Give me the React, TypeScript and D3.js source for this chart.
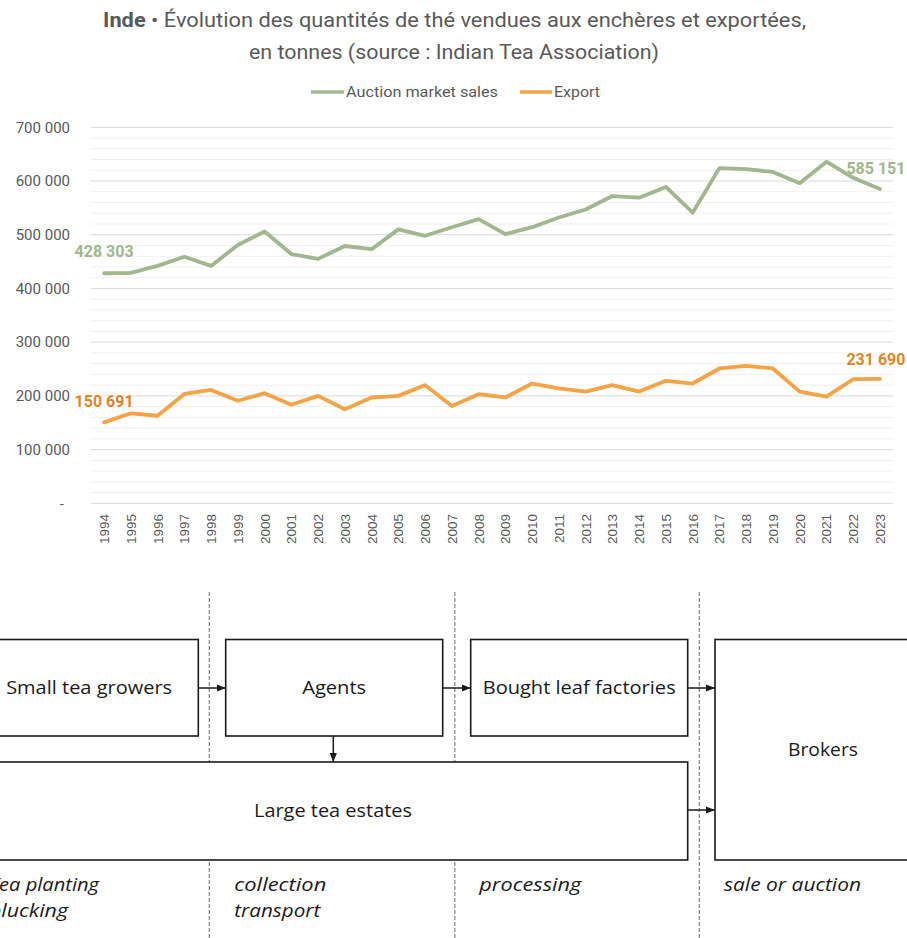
import React from "react";
import * as d3 from "d3";

const years = d3.range(1994, 2024).map(String);
const auctionSales = [428303, 429000, 442000, 459000, 442000, 481000, 506000, 464000, 455000, 479000, 473000, 510000, 498000, 514000, 529000, 501000, 514000, 532000, 547000, 572000, 569000, 589000, 541000, 624000, 622000, 617000, 596000, 636000, 606000, 585151];
const exportVals = [150691, 167600, 163000, 203500, 211000, 191000, 205000, 183600, 200000, 175000, 197000, 200000, 220000, 181000, 203000, 197000, 223000, 214000, 208000, 220000, 208000, 228000, 223000, 251000, 256000, 251000, 208000, 198500, 231000, 231690];
const seriesNames = ["Auction market sales", "Export"];
const yTicks = [0, 100000, 200000, 300000, 400000, 500000, 600000, 700000];

const GREEN = "#A2B78D";
const ORANGE = "#F4A447";
const GREEN_LABEL = "#A2B78D";
const ORANGE_LABEL = "#E5841F";
const TXT = "#595959";

const loc = d3.formatLocale({ thousands: " ", grouping: [3], decimal: ",", currency: ["", ""] });
const fmt = loc.format(",d");

export default function App() {
  const W = 907, H = 938;
  const x = d3.scaleBand<string>().domain(years).range([90.7, 893.3]);
  const y = d3.scaleLinear().domain([0, 700000]).range([503.3, 127.3]);
  const cx = (yr: string) => (x(yr) as number) + x.bandwidth() / 2;
  const line = d3.line<number>().x((_, i) => cx(years[i])).y((v) => y(v));
  const minor = d3.range(0, 700001, 20000);
  const n = years.length - 1;

  const diagFont = "'Open Sans', 'Noto Sans', sans-serif";
  const boxStroke = "#1a1a1a";

  const boxes = [
    { x: -20, y: 639.5, w: 218.3, h: 96.5, label: "Small tea growers", tl: 166, ty: 688 },
    { x: 225.7, y: 639.5, w: 217, h: 96.5, label: "Agents", tl: 64, ty: 688 },
    { x: 470.7, y: 639.5, w: 217, h: 96.5, label: "Bought leaf factories", tl: 193, ty: 688 },
    { x: 715, y: 639.5, w: 216, h: 220.5, label: "Brokers", tl: 70, ty: 750 },
    { x: -21.7, y: 762, w: 709.4, h: 98, label: "Large tea estates", tl: 158, ty: 811 },
  ];
  const arrows = [
    { x1: 198.3, y1: 688, x2: 225.7, y2: 688 },
    { x1: 442.7, y1: 688, x2: 470.7, y2: 688 },
    { x1: 687.7, y1: 688, x2: 715, y2: 688 },
    { x1: 687.7, y1: 810, x2: 715, y2: 810 },
    { x1: 333.3, y1: 736, x2: 333.3, y2: 762 },
  ];
  const dashX = [209.3, 454.8, 699.3];
  const stages = [
    { x: -11, lines: ["Tea planting", "plucking"], tl: [110, 79] },
    { x: 234.3, lines: ["collection", "transport"], tl: [92, 86] },
    { x: 479.3, lines: ["processing"], tl: [102] },
    { x: 724, lines: ["sale or auction"], tl: [137] },
  ];

  return (
    <svg width={W} height={H} style={{ display: "block", position: "absolute", left: 0, top: 0, background: "#fff" }}>
      <defs>
        <marker id="ah" viewBox="0 0 10 10" refX="10" refY="5" markerWidth="6" markerHeight="6" orient="auto">
          <path d="M0,1 L10,5 L0,9 z" fill="#1a1a1a" />
        </marker>
      </defs>
      {/* Title */}
      <g fontFamily="Roboto, sans-serif" fill={TXT} fontSize={20} textAnchor="start">
        <text x={103} y={27} textLength={703} lengthAdjust="spacingAndGlyphs">
          <tspan fontWeight="bold">Inde</tspan>
          <tspan> • Évolution des quantités de thé vendues aux enchères et exportées,</tspan>
        </text>
        <text x={249} y={59} textLength={410} lengthAdjust="spacingAndGlyphs">en tonnes (source : Indian Tea Association)</text>
      </g>
      {/* Legend */}
      <g fontFamily="Roboto, sans-serif" fill={TXT} fontSize={15}>
        <line x1={311} x2={344} y1={92} y2={92} stroke={GREEN} strokeWidth={3.5} />
        <text x={346} y={97} textLength={152} lengthAdjust="spacingAndGlyphs">{seriesNames[0]}</text>
        <line x1={520} x2={552} y1={92} y2={92} stroke={ORANGE} strokeWidth={3.5} />
        <text x={554} y={97} textLength={46} lengthAdjust="spacingAndGlyphs">{seriesNames[1]}</text>
      </g>
      {/* Grid */}
      <g>
        {minor.filter((v) => v % 100000 !== 0).map((v) => (
          <line key={"m" + v} x1={90.7} x2={893.3} y1={y(v)} y2={y(v)} stroke="#EFEFEF" strokeWidth={1} />
        ))}
        {yTicks.map((v) => (
          <line key={"M" + v} x1={90.7} x2={893.3} y1={y(v)} y2={y(v)} stroke="#D9D9D9" strokeWidth={1} />
        ))}
      </g>
      {/* Y labels */}
      <g fontFamily="Roboto, sans-serif" fill={TXT} fontSize={15} textAnchor="end">
        {yTicks.map((v) => (
          <text key={v} x={v === 0 ? 64 : 70} y={y(v)} dy="0.35em">{v === 0 ? "-" : fmt(v)}</text>
        ))}
      </g>
      {/* X labels */}
      <g fontFamily="'Liberation Sans', Arial, sans-serif" fill={TXT} fontSize={13.5} textAnchor="end">
        {years.map((yr) => (
          <text key={yr} transform={`translate(${cx(yr) + 5},${514}) rotate(-90)`}>{yr}</text>
        ))}
      </g>
      {/* Lines */}
      <path d={line(auctionSales) as string} fill="none" stroke={GREEN} strokeWidth={3.8} strokeLinejoin="round" strokeLinecap="round" />
      <path d={line(exportVals) as string} fill="none" stroke={ORANGE} strokeWidth={3.8} strokeLinejoin="round" strokeLinecap="round" />
      {/* Data labels */}
      <g fontFamily="Roboto, sans-serif" fontWeight="bold" fontSize={16} textAnchor="middle">
        <text x={cx(years[0])} y={y(auctionSales[0]) - 16} fill={GREEN_LABEL} textLength={59} lengthAdjust="spacingAndGlyphs">{fmt(auctionSales[0])}</text>
        <text x={cx(years[0])} y={y(exportVals[0]) - 15} fill={ORANGE_LABEL} textLength={59} lengthAdjust="spacingAndGlyphs">{fmt(exportVals[0])}</text>
        <text x={cx(years[n]) - 4} y={y(auctionSales[n]) - 15} fill={GREEN_LABEL} textLength={59} lengthAdjust="spacingAndGlyphs">{fmt(auctionSales[n])}</text>
        <text x={cx(years[n]) - 4} y={y(exportVals[n]) - 14} fill={ORANGE_LABEL} textLength={59} lengthAdjust="spacingAndGlyphs">{fmt(exportVals[n])}</text>
      </g>
      {/* Diagram */}
      <g>
        {dashX.map((dx) => (
          <line key={dx} x1={dx} x2={dx} y1={592} y2={938} stroke="#8a8a8a" strokeWidth={1.3} strokeDasharray="4 2" />
        ))}
        {boxes.map((b) => (
          <g key={b.label}>
            <rect x={b.x} y={b.y} width={b.w} height={b.h} fill="#fff" stroke={boxStroke} strokeWidth={1.6} />
            <text x={b.x + b.w / 2} y={b.ty} dy="0.35em" textAnchor="middle" fontFamily={diagFont} fontSize={18} fill="#1a1a1a" textLength={b.tl} lengthAdjust="spacingAndGlyphs">{b.label}</text>
          </g>
        ))}
        {arrows.map((a, i) => (
          <line key={i} x1={a.x1} y1={a.y1} x2={a.x2} y2={a.y2} stroke="#1a1a1a" strokeWidth={1.5} markerEnd="url(#ah)" />
        ))}
        {stages.map((s) => (
          <g key={s.x}>
            {s.lines.map((l, i) => (
              <text key={l} x={s.x} y={891 + i * 26} fontFamily={diagFont} fontStyle="italic" fontSize={18} fill="#1a1a1a" textLength={s.tl[i]} lengthAdjust="spacingAndGlyphs">{l}</text>
            ))}
          </g>
        ))}
      </g>
    </svg>
  );
}
